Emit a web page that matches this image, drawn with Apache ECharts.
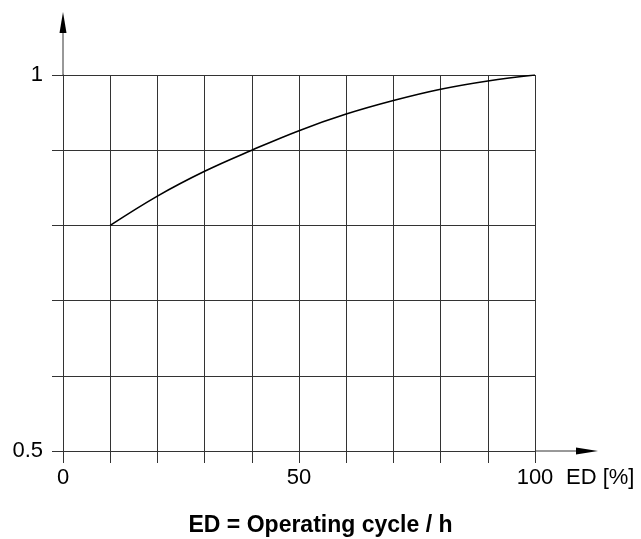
<!DOCTYPE html>
<html><head><meta charset="utf-8">
<script src="https://cdn.jsdelivr.net/npm/echarts@6/dist/echarts.min.js"></script>
<style>html,body{margin:0;padding:0;background:#fff}#c{width:641px;height:539px}</style>
</head><body><div id="c"></div>
<script>
const edValues = [10, 20, 30, 40, 50, 60, 70, 80, 90, 100];
const factorValues = [0.8, 0.839, 0.872, 0.9, 0.926, 0.948, 0.966, 0.981, 0.992, 1.0];
const xTickValues = [0, 50, 100];
const xTickLabels = ['0', '50', '100'];
const yTickValues = [0.5, 1];
const yTickLabels = ['0.5', '1'];
const xUnitLabel = 'ED [%]';
const titleText = 'ED = Operating cycle / h';

const FONT = '"Liberation Sans", Arial, Helvetica, sans-serif';
const lineColor = '#333';
function labelFor(v, vals, labels) {
  for (let i = 0; i < vals.length; i++) if (Math.abs(v - vals[i]) < 1e-6) return labels[i];
  return '';
}
const chart = echarts.init(document.getElementById('c'), null, { renderer: 'canvas' });
chart.setOption({
  animation: false,
  backgroundColor: '#fff',
  title: { text: titleText, left: 'center', top: 509,
    textStyle: { fontFamily: FONT, fontWeight: 'bold', fontSize: 23, color: '#000' } },
  grid: { left: 63, right: 106, top: 75, bottom: 88, containLabel: false, outerBoundsMode: 'none' },
  xAxis: {
    type: 'value', min: 0, max: 100, interval: 10,
    axisLine: { show: true, onZero: false, lineStyle: { color: lineColor, width: 1 } },
    axisTick: { show: true, length: 12, lineStyle: { color: lineColor, width: 1 } },
    splitLine: { show: true, lineStyle: { color: lineColor, width: 1 } },
    axisLabel: { margin: 16, fontFamily: FONT, fontSize: 22, color: '#000',
      showMinLabel: true, showMaxLabel: true, hideOverlap: false,
      formatter: v => labelFor(v, xTickValues, xTickLabels) }
  },
  yAxis: {
    type: 'value', min: 0.5, max: 1, interval: 0.1,
    axisLine: { show: true, onZero: false, lineStyle: { color: lineColor, width: 1 } },
    axisTick: { show: true, length: 11, lineStyle: { color: lineColor, width: 1 } },
    splitLine: { show: true, lineStyle: { color: lineColor, width: 1 } },
    axisLabel: { margin: 20, fontFamily: FONT, fontSize: 22, color: '#000',
      showMinLabel: true, showMaxLabel: true, hideOverlap: false,
      formatter: v => labelFor(v, yTickValues, yTickLabels) }
  },
  series: [{
    type: 'line', data: edValues.map((x, i) => [x, factorValues[i]]),
    smooth: 0.4, symbol: 'none', lineStyle: { color: '#000', width: 1.6 }
  }]
});

const pOrigin = chart.convertToPixel({ gridIndex: 0 }, [0, 0.5]);
const pTop = chart.convertToPixel({ gridIndex: 0 }, [0, 1]);
const pRight = chart.convertToPixel({ gridIndex: 0 }, [100, 0.5]);
const ax = pOrigin[0], ay = pOrigin[1];
const yTip = pTop[1] - 63, xTip = pRight[0] + 63;
chart.setOption({
  graphic: [
    { type: 'line', shape: { x1: ax, y1: pTop[1], x2: ax, y2: yTip + 18 }, style: { stroke: lineColor, lineWidth: 1 } },
    { type: 'polygon', shape: { points: [[ax, yTip], [ax - 3.5, yTip + 21], [ax + 3.5, yTip + 21]] }, style: { fill: '#000' } },
    { type: 'line', shape: { x1: pRight[0], y1: ay, x2: xTip - 18, y2: ay }, style: { stroke: lineColor, lineWidth: 1 } },
    { type: 'polygon', shape: { points: [[xTip, ay], [xTip - 22, ay - 3.5], [xTip - 22, ay + 3.5]] }, style: { fill: '#000' } },
    { type: 'text', x: pRight[0] + 31, y: ay + 27,
      style: { text: xUnitLabel, font: '22px ' + FONT, fill: '#000', textAlign: 'left', textVerticalAlign: 'middle' } }
  ]
});
</script>
</body></html>
